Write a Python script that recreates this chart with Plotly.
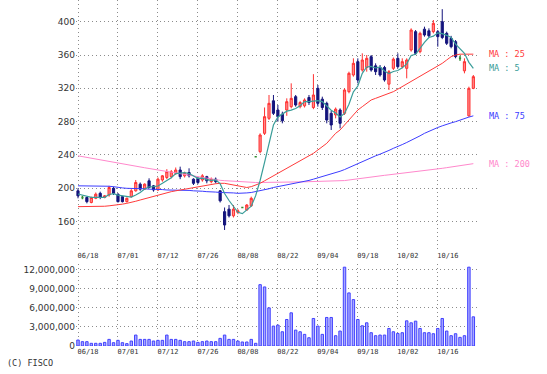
import plotly.graph_objects as go
import pandas as pd

dates = [
    "06/18","06/19","06/20","06/21","06/24","06/25","06/26","06/27","06/28",
    "07/01","07/02","07/03","07/04","07/05","07/08","07/09","07/10","07/11","07/12",
    "07/16","07/17","07/18","07/19","07/22","07/23","07/24","07/25","07/26","07/29","07/30","07/31",
    "08/01","08/02","08/05","08/06","08/07","08/08","08/09","08/13","08/14","08/15","08/16",
    "08/19","08/20","08/21","08/22","08/23","08/26","08/27","08/28","08/29","08/30",
    "09/02","09/03","09/04","09/05","09/06","09/09","09/10","09/11","09/12","09/13",
    "09/17","09/18","09/19","09/20","09/24","09/25","09/26","09/27","09/30",
    "10/01","10/02","10/03","10/04","10/07","10/08","10/09","10/10","10/11",
    "10/15","10/16","10/17","10/18","10/21","10/23","10/24","10/25","10/28","10/29",
]

opens = [197,189,189,183,188,194,189,192,200,193,
         190,184,190,197,205,199,209,203,198,210,
         213,214,218,222,215,219,211,212,210,214,
         208,211,197,172,175,167,171,177,174,179,
         238,244,266,284,305,294,289,294,298,310,
         298,299,309,297,320,307,302,290,288,294,
         290,316,336,352,342,345,358,347,345,345,
         325,344,356,346,344,366,388,364,391,389,
         388,388,400,386,380,376,356,341,287,320]
highs = [200,191,190,190,195,196,192,203,202,194,
         191,189,199,210,207,206,212,204,213,216,
         223,222,225,226,220,224,212,214,217,215,
         213,213,198,177,180,180,175,178,181,190,
         238,266,297,312,312,300,292,308,326,312,
         305,308,312,337,324,310,304,293,297,296,
         320,340,356,356,362,360,360,350,348,347,
         342,357,362,356,356,392,390,388,394,392,
         402,390,415,388,383,378,359,356,322,336]
lows = [188,187,182,182,187,187,188,190,192,183,
        183,183,189,196,197,198,200,196,197,208,
        211,212,216,211,213,213,204,205,208,206,
        206,206,183,150,165,165,169,176,173,178,
        238,242,264,282,288,280,278,287,296,298,
        296,297,300,295,298,294,278,270,284,272,
        288,314,334,326,340,340,340,336,334,328,
        318,342,344,344,332,364,360,362,382,381,
        386,370,379,372,368,356,353,338,286,319]
closes = [191,189,184,189,193,189,191,201,194,184,
          184,188,197,207,199,205,201,198,211,215,
          220,220,222,214,218,215,206,207,215,209,
          211,208,185,156,167,175,173,177,180,188,
          238,264,286,302,290,286,281,304,308,300,
          303,306,303,312,302,297,282,276,295,278,
          318,338,350,330,354,356,342,340,336,330,
          340,355,346,352,354,390,362,386,384,383,
          398,382,381,374,370,358,356,352,320,334]
# closes of the four sessions before 06/18 (for the 5-day average)
pre_closes = [196, 194, 192, 193]

volumes = [940000,680000,680000,420000,420000,420000,570000,1040000,520000,890000,
           520000,370000,780000,1720000,1040000,1040000,1040000,780000,890000,890000,
           1720000,1040000,1040000,890000,680000,680000,780000,570000,680000,780000,
           680000,680000,1200000,1720000,1040000,1040000,780000,630000,630000,1040000,
           420000,9650000,9290000,6000000,3130000,3290000,2240000,4170000,5220000,2500000,
           2240000,1830000,1300000,4330000,3130000,1830000,4490000,4490000,1620000,2350000,
           12400000,8350000,7300000,4170000,3180000,3650000,2090000,1620000,1720000,1720000,
           2760000,2240000,1980000,2090000,3960000,3650000,3910000,2760000,2090000,2090000,
           1930000,2760000,4330000,2350000,1620000,1930000,1360000,1620000,12400000,4590000]

ma25 = [178,178,178,178,178,178,178.5,179,179.5,180,
        181,182,183,184.5,186,187.5,189,190.5,192,193.5,
        195,196,197,198,199,200,201,202,203,204,
        205,205.5,206,206,205,204,202.5,201.5,201,202,
        204,206,209,212,215,218,220.5,223,226,229,
        232,235,238,242,246,250,254,260,266,270,
        276,282,288,294,298,302,306,308,310,312,
        314,316,319,322,326,329,332,335,337,340,
        343,346,350,354,358,360,361,361,361,361]
ma75 = [203,203,203,203,203,203,203,202.5,202,201,
        200.5,200,200,200,199.5,199.5,199,199,198.5,198.5,
        198,198,198,198,197.5,197.5,197,197,196.5,196,
        196,195.5,195,195,194.5,194.5,194,194,194.5,195,
        196,197,198,199.5,201,202,203,204,205,206,
        207,208,209.5,211,212.5,214,216,217.5,219,220.5,
        222.5,225,227.5,230,232,234.5,237,239,241,243,
        245.5,248,250,252.5,255,257.5,260.5,263,266,268.5,
        271,273,275,277,278.5,280,282,283.5,285.5,287]
ma200 = [239,238,237.1,236.2,235.2,234.2,233.3,232.4,231.4,230.4,
         229.5,228.5,227.6,226.7,225.7,224.7,223.8,222.9,221.9,220.9,
         220,219,218,217.2,216.3,215.4,214.5,213.6,212.7,211.8,
         210.9,210,209.6,209.2,208.8,208.4,208,207.6,207.3,207,
         207,207,207,207,207,207.1,207.2,207.3,207.4,207.5,
         207.6,207.8,208,208.1,208.3,208.4,208.6,208.7,208.9,209.1,
         209.3,210,210.8,211.6,212.4,213.2,213.8,214.4,215,215.6,
         216.2,216.8,217.3,217.8,218.3,219,219.7,220.4,221.1,221.8,
         222.5,223.2,224,224.8,225.6,226.4,227.2,228,228.8,229.6]

tick_labels = ["06/18","07/01","07/12","07/26","08/08","08/22","09/04","09/18","10/02","10/16"]
price_ticks = [160, 200, 240, 280, 320, 360, 400]
volume_ticks = [0, 3000000, 6000000, 9000000, 12000000]

# ---------------------------------------------------------------
idx = list(range(len(dates)))
ma5 = pd.Series(pre_closes + closes).rolling(5).mean().tolist()[len(pre_closes):]

tickvals = [dates.index(t) for t in tick_labels] + [len(dates)]
ticktext = tick_labels + [""]

UP_FILL, UP_LINE = "#ff8a8a", "#ff3030"
DN_FILL, DN_LINE = "#14147c", "#14147c"
DOJI = "#2f8a2f"
C_MA5, C_MA25, C_MA75, C_MA200 = "#3a9d99", "#ff3a3a", "#3c3cff", "#ff88cc"

doji = [i for i in idx if opens[i] == closes[i]]
body = [i for i in idx if opens[i] != closes[i]]

fig = go.Figure()

fig.add_trace(go.Scatter(x=idx, y=ma200, mode="lines", line=dict(color=C_MA200, width=1),
                         xaxis="x", yaxis="y", hoverinfo="skip"))
fig.add_trace(go.Scatter(x=idx, y=ma75, mode="lines", line=dict(color=C_MA75, width=1),
                         xaxis="x", yaxis="y", hoverinfo="skip"))

fig.add_trace(go.Candlestick(
    x=body, open=[opens[i] for i in body], high=[highs[i] for i in body],
    low=[lows[i] for i in body], close=[closes[i] for i in body],
    increasing=dict(fillcolor=UP_FILL, line=dict(color=UP_LINE, width=1)),
    decreasing=dict(fillcolor=DN_FILL, line=dict(color=DN_LINE, width=1)),
    xaxis="x", yaxis="y"))
fig.add_trace(go.Candlestick(
    x=doji, open=[opens[i] for i in doji], high=[highs[i] for i in doji],
    low=[lows[i] for i in doji], close=[closes[i] for i in doji],
    increasing=dict(fillcolor=DOJI, line=dict(color=DOJI, width=1.5)),
    decreasing=dict(fillcolor=DOJI, line=dict(color=DOJI, width=1.5)),
    xaxis="x", yaxis="y"))

fig.add_trace(go.Scatter(x=idx, y=ma25, mode="lines", line=dict(color=C_MA25, width=1),
                         xaxis="x", yaxis="y", hoverinfo="skip"))
fig.add_trace(go.Scatter(x=idx, y=ma5, mode="lines", line=dict(color=C_MA5, width=1.2),
                         xaxis="x", yaxis="y", hoverinfo="skip"))

fig.add_trace(go.Bar(x=idx, y=volumes, width=0.55,
                     marker=dict(color="#a8a8ff", line=dict(color="#4040ff", width=1)),
                     xaxis="x2", yaxis="y2"))

grid = dict(showgrid=True, gridcolor="#8c8c8c", griddash="1px,3px", gridwidth=1,
            zeroline=False, showline=False, ticks="")
xcommon = dict(range=[-0.45, 90.05], tickmode="array", tickvals=tickvals, ticktext=ticktext,
               tickfont=dict(family="DejaVu Sans Mono", size=7, color="#333333"),
               ticklabelshift=10, rangeslider=dict(visible=False), **grid)

fig.update_layout(
    width=547, height=374,
    margin=dict(l=76, r=69, t=0, b=28),
    paper_bgcolor="white", plot_bgcolor="white",
    showlegend=False,
    xaxis=dict(domain=[0, 1], anchor="y", **xcommon),
    xaxis2=dict(domain=[0, 1], anchor="y2", **xcommon),
    yaxis=dict(domain=[0.2775, 1], range=[126, 426], tickmode="array", tickvals=price_ticks,
               tickfont=dict(family="DejaVu Sans", size=9, color="#333333"), **grid),
    yaxis2=dict(domain=[0, 0.237], range=[0, 12.9e6], tickmode="array", tickvals=volume_ticks,
                ticktext=[f"{v:,}" for v in volume_ticks],
                tickfont=dict(family="DejaVu Sans", size=9, color="#333333"), **grid),
)

labels = [("MA : 25", ma25[-1], C_MA25), ("MA : 5", ma5[-1], C_MA5),
          ("MA : 75", ma75[-1], C_MA75), ("MA : 200", ma200[-1], C_MA200)]
for txt, yv, col in labels:
    fig.add_annotation(text=txt, xref="paper", yref="y", x=1.0224, y=yv,
                       xanchor="left", yanchor="middle", showarrow=False,
                       font=dict(family="DejaVu Sans Mono", size=8.5, color=col))

fig.add_annotation(text="(C) FISCO", xref="paper", yref="paper", x=-0.1766, y=-0.049,
                   xanchor="left", yanchor="middle", showarrow=False,
                   font=dict(family="DejaVu Sans Mono", size=8.5, color="#333333"))

fig.write_html("out.html", config={"displayModeBar": False},
               post_script="document.body.style.margin='0px';document.body.style.padding='0px';")
